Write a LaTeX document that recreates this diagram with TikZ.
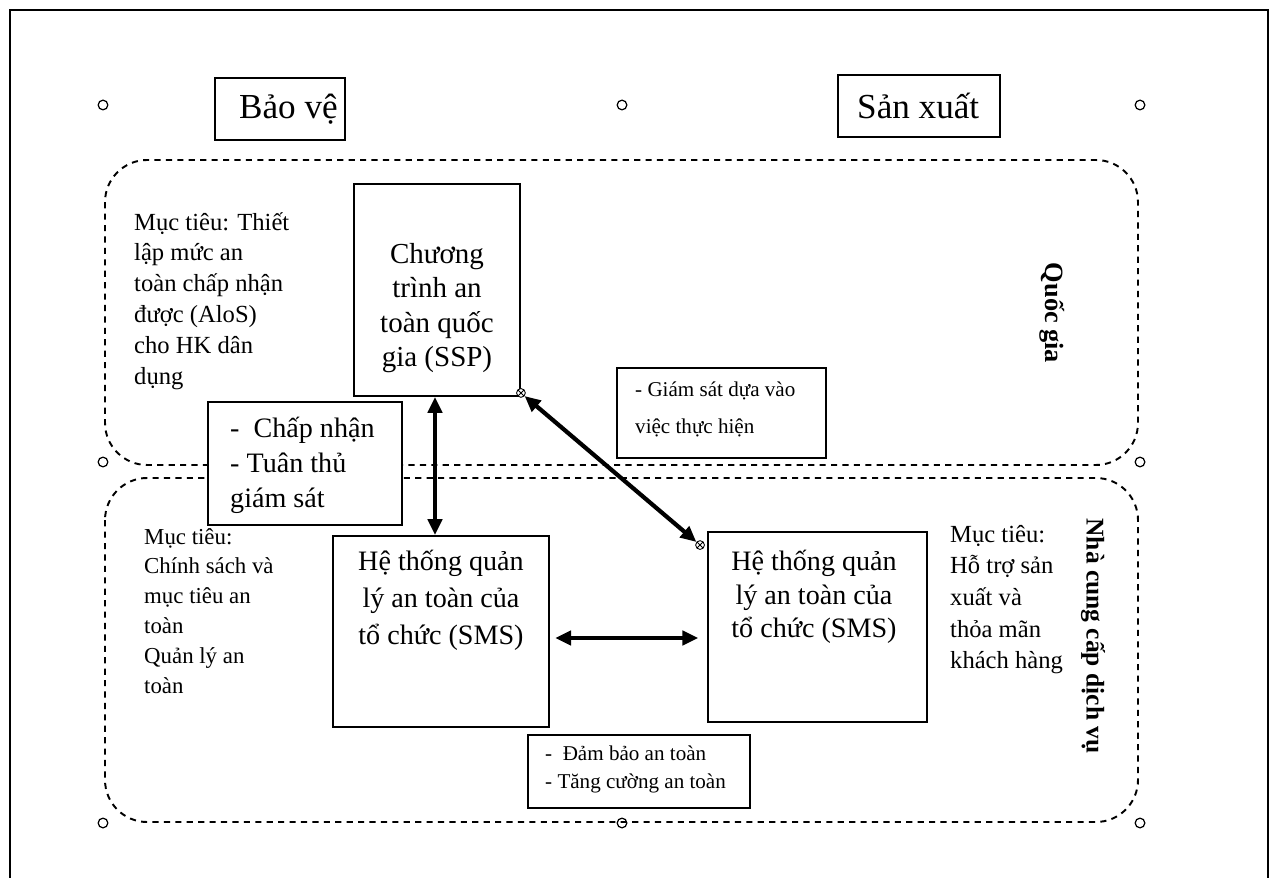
\documentclass[tikz,border=0pt]{standalone}
\usepackage{fontspec}
\setmainfont{Liberation Serif}
\usetikzlibrary{arrows.meta}

\tikzset{
    box/.style={draw,line width=1.1pt,inner sep=0pt},
    handle/.style={circle,draw,line width=0.7pt,inner sep=0pt,minimum size=5.5pt},
    zone/.style={line width=1.1pt,dash pattern=on 3.5pt off 3pt,rounded corners=24pt},
    dblarrow/.style={{Triangle[length=9pt,width=8pt]}-{Triangle[length=9pt,width=8pt]},line width=2.4pt},
    joint/.style={circle,draw,inner sep=0pt,minimum size=5pt,line width=0.5pt,fill=white,
        path picture={\draw[line width=0.5pt] (path picture bounding box.north west)--(path picture bounding box.south east)
            (path picture bounding box.north east)--(path picture bounding box.south west);}},
}

\begin{document}
\begin{tikzpicture}[x=0.02cm,y=-0.02cm]
    \useasboundingbox (0,0) rectangle (1275,878);
    \draw[line width=0.8pt] (10,878) -- (10,10) -- (1268,10) -- (1268,878);
    % two levels
    \draw[zone] (105,160) rectangle (1138,465);
    \draw[zone] (105,478) rectangle (1138,822);
    \foreach \x/\y [count=\i] in {103/105,622/105,1140/105,103/462,1140/462,103/823,622/823,1140/823}
        \node[handle] (h\i) at (\x,\y) {};
    % headers
    \node[box,minimum width=2.6cm,minimum height=1.24cm] (baove) at (280,109) {};
    \node[anchor=west,font=\fontsize{20}{24}\selectfont] (baovetxt) at (233,109) {Bảo vệ};
    \node[box,minimum width=3.24cm,minimum height=1.24cm] (sanxuat) at (919,106) {};
    \node[anchor=west,font=\fontsize{20}{24}\selectfont] (sanxuattxt) at (851,106) {Sản xuất};
    % national level
    \node[anchor=north west,align=left,font=\fontsize{14}{17.6}\selectfont] (mtssp) at (128,206)
        {Mục tiêu: Thiết\\lập mức an\\toàn chấp nhận\\được (AloS)\\cho HK dân\\dụng};
    \node[box,minimum width=3.32cm,minimum height=4.24cm] (ssp) at (437,290) {};
    \node[align=center,font=\fontsize{16.5}{19.6}\selectfont] (ssptxt) at (437,308)
        {Chương\\trình an\\toàn quốc\\gia (SSP)};
    \node[box,minimum width=4.18cm,minimum height=1.8cm] (giamsat) at (721.5,413) {};
    \node[anchor=west,align=left,font=\fontsize{12}{21}\selectfont] (giamsattxt) at (629,409)
        {- Giám sát dựa vào\\việc thực hiện};
    \node[rotate=-90,font=\fontsize{15}{18}\bfseries] (quocgia) at (1052,313) {Quốc gia};
    % provider level
    \node[box,fill=white,minimum width=3.88cm,minimum height=2.46cm] (chapnhan) at (305,463.5) {};
    \node[anchor=west,align=left,font=\fontsize{16}{20}\selectfont] (chapnhantxt) at (224,465)
        {-\ \ Chấp nhận\\- Tuân thủ\\giám sát};
    \node[anchor=north west,align=left,font=\fontsize{13}{17}\selectfont] (mtsms) at (138,522)
        {Mục tiêu:\\Chính sách và\\mục tiêu an\\toàn\\Quản lý an\\toàn};
    \node[box,minimum width=4.32cm,minimum height=3.82cm] (smsL) at (441,631.5) {};
    \node[align=center,font=\fontsize{16}{21}\selectfont] (smsLtxt) at (441,600)
        {Hệ thống quản\\lý an toàn của\\tổ chức (SMS)};
    \node[box,minimum width=4.38cm,minimum height=3.8cm] (smsR) at (817.5,627) {};
    \node[align=center,font=\fontsize{16}{19}\selectfont] (smsRtxt) at (814,597)
        {Hệ thống quản\\lý an toàn của\\tổ chức (SMS)};
    \node[anchor=north west,align=left,font=\fontsize{14}{18}\selectfont] (mtsx) at (944,519)
        {Mục tiêu:\\Hỗ trợ sản\\xuất và\\thỏa mãn\\khách hàng};
    \node[rotate=-90,font=\fontsize{14.5}{18}\bfseries] (nhacc) at (1093,636) {Nhà cung cấp dịch vụ};
    \node[box,minimum width=4.44cm,minimum height=1.46cm] (dambao) at (639,771.5) {};
    \node[anchor=west,align=left,font=\fontsize{12}{16}\selectfont] (dambaotxt) at (539,769)
        {-\ \ Đảm bảo an toàn\\- Tăng cường an toàn};
    % links
    \draw[dblarrow] ([xshift=-0.04cm]ssp.south) -- ([xshift=-0.04cm]ssp.south |- smsL.north);
    \draw[dblarrow,shorten <=3pt,shorten >=5pt] ([yshift=-0.13cm]smsL.east) -- ([yshift=-0.13cm]smsL.east -| smsR.west);
    \node[joint] (j1) at ([yshift=0.08cm]ssp.south east) {};
    \node[joint] (j2) at ([xshift=-0.14cm,yshift=-0.28cm]smsR.north west) {};
    \draw[dblarrow] (j1) -- (j2);
\end{tikzpicture}
\end{document}
